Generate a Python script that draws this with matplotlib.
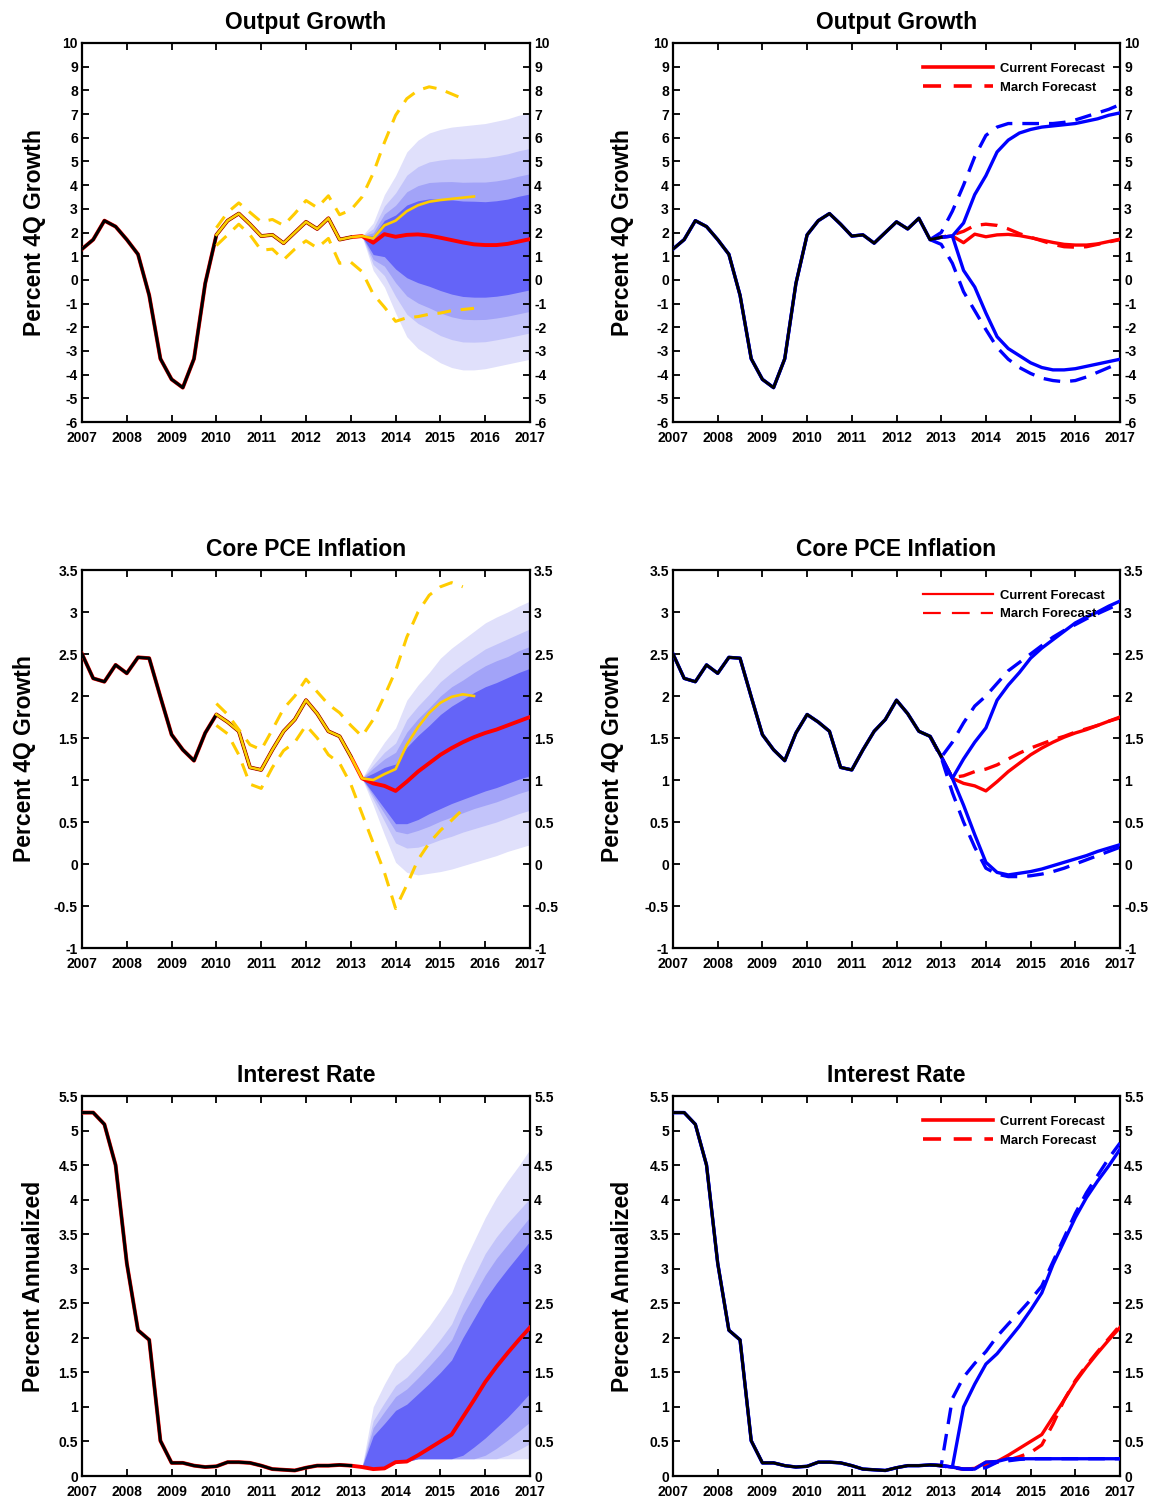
import numpy as np
import matplotlib
matplotlib.use('Agg')
import matplotlib.pyplot as plt
from matplotlib.lines import Line2D
from matplotlib.ticker import FormatStrFormatter

plt.rcParams['font.family'] = ['Liberation Sans', 'DejaVu Sans']
plt.rcParams['axes.unicode_minus'] = False

# ---------------- data ----------------
HIST_START = 2007.0     # quarterly history
FC_START = 2013.25      # current forecast / fan
MARCH_START = 2012.75   # March forecast
PREV_START = 2010.0     # earlier forecast (yellow)
years = list(range(2007, 2018))

# Output growth
gdp_hist = [1.3, 1.7, 2.5, 2.25, 1.7, 1.08, -0.65, -3.33, -4.2, -4.55, -3.33, -0.15,
            1.9, 2.5, 2.8, 2.35, 1.85, 1.9, 1.55, 2.0, 2.45, 2.15, 2.6, 1.7, 1.8]
gdp_med = [1.85, 1.57, 1.93, 1.82, 1.9, 1.92, 1.87, 1.78, 1.68, 1.58, 1.5, 1.47, 1.47, 1.52, 1.62, 1.72]
gdp_hi1 = [1.85, 2.4, 3.6, 4.4, 5.4, 5.9, 6.2, 6.35, 6.45, 6.5, 6.55, 6.6, 6.7, 6.8, 6.95, 7.05]
gdp_hi2 = [1.85, 2.16, 3.12, 3.67, 4.42, 4.78, 4.98, 5.06, 5.11, 5.11, 5.14, 5.16, 5.23, 5.32, 5.45, 5.55]
gdp_hi3 = [1.85, 1.99, 2.78, 3.15, 3.72, 3.98, 4.11, 4.14, 4.15, 4.12, 4.13, 4.13, 4.18, 4.26, 4.38, 4.48]
gdp_hi4 = [1.85, 1.86, 2.51, 2.74, 3.16, 3.34, 3.42, 3.41, 3.38, 3.33, 3.32, 3.3, 3.34, 3.41, 3.53, 3.63]
gdp_lo4 = [1.85, 1.07, 0.98, 0.46, 0.09, -0.12, -0.27, -0.45, -0.6, -0.7, -0.73, -0.73, -0.69, -0.62, -0.52, -0.42]
gdp_lo3 = [1.85, 0.86, 0.58, -0.12, -0.68, -0.98, -1.18, -1.4, -1.56, -1.66, -1.68, -1.67, -1.61, -1.53, -1.43, -1.33]
gdp_lo2 = [1.85, 0.65, 0.18, -0.7, -1.45, -1.84, -2.09, -2.35, -2.52, -2.62, -2.63, -2.61, -2.53, -2.44, -2.34, -2.24]
gdp_lo1 = [1.85, 0.4, -0.3, -1.4, -2.4, -2.9, -3.2, -3.5, -3.7, -3.8, -3.8, -3.75, -3.65, -3.55, -3.45, -3.35]
gdp_prev = [1.9, 2.5, 2.8, 2.35, 1.85, 1.9, 1.55, 2.0, 2.45, 2.15, 2.6, 1.7, 1.8, 1.85, 1.75, 2.3,
            2.5, 2.9, 3.15, 3.3, 3.37, 3.42, 3.47, 3.52]
gdp_prev_hi = [2.2, 2.85, 3.25, 2.85, 2.45, 2.55, 2.3, 2.8, 3.35, 3.05, 3.55, 2.75, 2.95, 3.5, 4.5,
               5.8, 6.95, 7.65, 8.0, 8.15, 8.05, 7.85, 7.65]
gdp_prev_lo = [1.45, 1.9, 2.35, 1.9, 1.25, 1.3, 0.85, 1.3, 1.65, 1.35, 1.75, 0.7, 0.75, 0.35, -0.6,
               -1.15, -1.75, -1.6, -1.55, -1.45, -1.4, -1.3, -1.25, -1.2]
gdp_mar_hi = [1.7, 2.0, 2.9, 4.0, 5.2, 6.1, 6.45, 6.6, 6.6, 6.6, 6.6, 6.6, 6.65, 6.75, 6.9, 7.05, 7.2, 7.4]
gdp_mar_lo = [1.7, 1.5, 0.7, -0.5, -1.3, -2.1, -2.85, -3.35, -3.7, -3.95, -4.15, -4.25, -4.3, -4.25,
              -4.1, -3.9, -3.7, -3.5]
gdp_mar_med = [1.7, 1.8, 1.9, 2.05, 2.3, 2.35, 2.3, 2.15, 1.95, 1.8, 1.65, 1.5, 1.4, 1.38, 1.4, 1.5, 1.6, 1.7]

# Core PCE inflation
pce_hist = [2.5, 2.21, 2.17, 2.37, 2.27, 2.46, 2.45, 1.99, 1.54, 1.36, 1.23, 1.56, 1.78, 1.69,
            1.58, 1.15, 1.12, 1.36, 1.58, 1.72, 1.95, 1.79, 1.58, 1.52, 1.28]
pce_med = [1.02, 0.96, 0.93, 0.87, 0.98, 1.1, 1.2, 1.3, 1.38, 1.45, 1.51, 1.56, 1.6, 1.65, 1.7, 1.75]
pce_hi1 = [1.02, 1.25, 1.45, 1.62, 1.95, 2.13, 2.28, 2.45, 2.57, 2.67, 2.77, 2.87, 2.94, 3.0, 3.07, 3.13]
pce_hi2 = [1.02, 1.18, 1.33, 1.44, 1.72, 1.88, 2.02, 2.17, 2.28, 2.38, 2.47, 2.56, 2.62, 2.68, 2.74, 2.8]
pce_hi3 = [1.02, 1.14, 1.25, 1.33, 1.57, 1.73, 1.86, 2.0, 2.11, 2.19, 2.28, 2.36, 2.42, 2.47, 2.54, 2.59]
pce_hi4 = [1.02, 1.08, 1.15, 1.19, 1.39, 1.53, 1.65, 1.78, 1.88, 1.96, 2.04, 2.11, 2.16, 2.22, 2.28, 2.33]
pce_lo4 = [1.02, 0.84, 0.66, 0.48, 0.48, 0.53, 0.6, 0.66, 0.72, 0.77, 0.82, 0.87, 0.91, 0.96, 1.01, 1.05]
pce_lo3 = [1.02, 0.81, 0.6, 0.39, 0.36, 0.4, 0.45, 0.51, 0.56, 0.61, 0.66, 0.7, 0.74, 0.79, 0.84, 0.88]
pce_lo2 = [1.02, 0.77, 0.51, 0.25, 0.19, 0.2, 0.24, 0.29, 0.33, 0.38, 0.42, 0.46, 0.5, 0.55, 0.6, 0.64]
pce_lo1 = [1.02, 0.7, 0.35, 0.02, -0.1, -0.13, -0.11, -0.09, -0.06, -0.02, 0.02, 0.06, 0.1, 0.15, 0.19, 0.23]
pce_prev = [1.78, 1.69, 1.58, 1.15, 1.12, 1.36, 1.58, 1.72, 1.95, 1.79, 1.58, 1.52, 1.28, 1.02, 1.0,
            1.07, 1.13, 1.42, 1.63, 1.8, 1.92, 1.99, 2.02, 2.0]
pce_prev_hi = [1.91, 1.78, 1.6, 1.42, 1.36, 1.6, 1.85, 2.0, 2.2, 2.05, 1.9, 1.8, 1.65, 1.52, 1.72,
               2.0, 2.3, 2.7, 3.0, 3.2, 3.3, 3.35, 3.3]
pce_prev_lo = [1.65, 1.55, 1.3, 0.95, 0.9, 1.15, 1.35, 1.45, 1.65, 1.5, 1.3, 1.2, 0.95, 0.6, 0.25,
               -0.1, -0.53, -0.25, 0.05, 0.25, 0.4, 0.52, 0.65]
pce_mar_hi = [1.52, 1.27, 1.45, 1.68, 1.88, 2.0, 2.15, 2.3, 2.4, 2.5, 2.6, 2.7, 2.78, 2.85, 2.92, 2.98, 3.04, 3.1]
pce_mar_lo = [1.52, 1.27, 0.85, 0.5, 0.2, -0.05, -0.12, -0.15, -0.15, -0.14, -0.12, -0.09, -0.05, 0.0,
              0.05, 0.1, 0.15, 0.2]
pce_mar_med = [1.52, 1.27, 1.03, 1.05, 1.1, 1.13, 1.18, 1.25, 1.32, 1.38, 1.43, 1.48, 1.52, 1.57, 1.61,
               1.65, 1.7, 1.74]

# Interest rate
ir_hist = [5.26, 5.26, 5.09, 4.5, 3.08, 2.11, 1.97, 0.51, 0.19, 0.19, 0.15, 0.13, 0.14, 0.2, 0.2,
           0.19, 0.15, 0.1, 0.09, 0.08, 0.12, 0.15, 0.15, 0.16, 0.15]
ir_med = [0.13, 0.1, 0.11, 0.2, 0.21, 0.3, 0.4, 0.5, 0.6, 0.85, 1.1, 1.36, 1.58, 1.78, 1.97, 2.15]
ir_hi1 = [0.13, 1.0, 1.33, 1.62, 1.77, 1.97, 2.17, 2.4, 2.65, 3.06, 3.4, 3.74, 4.03, 4.27, 4.49, 4.73]
ir_hi2 = [0.13, 0.8, 1.06, 1.31, 1.43, 1.6, 1.78, 1.98, 2.2, 2.57, 2.89, 3.22, 3.46, 3.66, 3.84, 4.02]
ir_hi3 = [0.13, 0.7, 0.93, 1.15, 1.26, 1.42, 1.59, 1.77, 1.97, 2.33, 2.62, 2.91, 3.15, 3.35, 3.55, 3.75]
ir_hi4 = [0.13, 0.58, 0.76, 0.95, 1.04, 1.19, 1.34, 1.5, 1.68, 2.0, 2.28, 2.56, 2.79, 3.0, 3.2, 3.4]
ir_lo4 = [0.13, 0.1, 0.11, 0.2, 0.21, 0.25, 0.25, 0.25, 0.25, 0.3, 0.42, 0.55, 0.7, 0.85, 1.02, 1.2]
ir_lo3 = [0.13, 0.1, 0.1, 0.2, 0.21, 0.25, 0.25, 0.25, 0.25, 0.25, 0.25, 0.3, 0.4, 0.52, 0.65, 0.78]
ir_lo2 = [0.13, 0.1, 0.1, 0.2, 0.21, 0.25, 0.25, 0.25, 0.25, 0.25, 0.25, 0.25, 0.25, 0.3, 0.38, 0.47]
ir_lo1 = [0.13, 0.1, 0.1, 0.2, 0.21, 0.25, 0.25, 0.25, 0.25, 0.25, 0.25, 0.25, 0.25, 0.25, 0.25, 0.25]
ir_mar_hi = [0.16, 0.15, 1.12, 1.43, 1.63, 1.8, 2.02, 2.2, 2.37, 2.55, 2.75, 3.1, 3.45, 3.8, 4.1, 4.35, 4.6, 4.82]
ir_mar_lo = [0.16, 0.15, 0.12, 0.1, 0.1, 0.12, 0.2, 0.22, 0.24, 0.25, 0.25, 0.25, 0.25, 0.25, 0.25,
             0.25, 0.25, 0.25]
ir_mar_med = [0.16, 0.15, 0.12, 0.1, 0.1, 0.15, 0.2, 0.23, 0.28, 0.34, 0.45, 0.75, 1.1, 1.38, 1.6, 1.8,
              1.99, 2.18]

# ---------------- styling ----------------
FAN_COLORS = ['#e0e0fb', '#c3c4fa', '#a2a3f8', '#6464f8']
RED = '#ff0000'
BLUE = '#0000ff'
GOLD = '#ffcc00'


def qx(start, values):
    return start + 0.25 * np.arange(len(values))


def setup(ax, ylim, step, title, ylabel, lab_off):
    ax.set_xlim(2007, 2017)
    ax.set_ylim(*ylim)
    ax.set_xticks(years)
    ax.set_yticks(np.arange(ylim[0], ylim[1] + step / 2, step))
    ax.yaxis.set_major_formatter(FormatStrFormatter('%g'))
    ax.tick_params(which='major', direction='in', top=True, right=True, labelright=True,
                   length=5, width=1.3, labelsize=10, colors='black')
    ax.tick_params(axis='x', pad=6.5)
    ax.tick_params(axis='y', pad=3)
    for t in ax.xaxis.get_major_ticks() + ax.yaxis.get_major_ticks():
        t.label1.set_fontweight('bold')
        t.label2.set_fontweight('bold')
    for s in ax.spines.values():
        s.set_linewidth(1.6)
    ax.set_title(title, fontsize=16.5, fontweight='bold', pad=10)
    ax.set_ylabel(ylabel, fontsize=16.5, fontweight='bold', va='center', ha='center')
    ax.yaxis.set_label_coords(-lab_off, 0.5)


def draw_fan(ax, bands):
    x = qx(FC_START, bands[0][0])
    for (lo, hi), c in zip(bands, FAN_COLORS):
        ax.fill_between(x, lo, hi, color=c, linewidth=0, zorder=1)


def left_panel(ax, hist, med, bands, prev=None, prev_hi=None, prev_lo=None):
    draw_fan(ax, bands)
    xh = qx(HIST_START, hist)
    full = list(hist) + list(med)
    ax.plot(qx(HIST_START, full), full, color=RED, lw=2.8, zorder=3, solid_joinstyle='round')
    ax.plot(xh, hist, color='black', lw=2.2, zorder=4)
    if prev is not None:
        ax.plot(qx(PREV_START, prev_hi), prev_hi, color=GOLD, lw=2.2, dashes=(4.5, 3.2), zorder=5)
        ax.plot(qx(PREV_START, prev_lo), prev_lo, color=GOLD, lw=2.2, dashes=(4.5, 3.2), zorder=5)
        ax.plot(qx(PREV_START, prev), prev, color=GOLD, lw=1.9, zorder=6)


def right_panel(ax, hist, med, hi1, lo1, mar_med, mar_hi, mar_lo, lw_leg):
    xm = qx(MARCH_START, mar_med)
    ax.plot(xm, mar_med, color=RED, lw=2.4, dashes=(5, 3), zorder=2)
    cur = [hist[-1]] + list(med)
    ax.plot(qx(FC_START - 0.25, cur), cur, color=RED, lw=2.4, zorder=3)
    ax.plot(xm, mar_hi, color=BLUE, lw=2.4, dashes=(5, 3), zorder=3)
    ax.plot(xm, mar_lo, color=BLUE, lw=2.4, dashes=(5, 3), zorder=3)
    up = list(hist) + list(hi1)
    dn = list(hist) + list(lo1)
    ax.plot(qx(HIST_START, up), up, color=BLUE, lw=2.4, zorder=4)
    ax.plot(qx(HIST_START, dn), dn, color=BLUE, lw=2.4, zorder=4)
    ax.plot(qx(HIST_START, hist), hist, color='black', lw=2.1, zorder=5)
    handles = [Line2D([], [], color=RED, lw=lw_leg),
               Line2D([], [], color=RED, lw=lw_leg, dashes=(5, 3.5) if lw_leg > 2 else (8, 5))]
    ax.legend(handles, ['Current Forecast', 'March Forecast'], loc='upper right',
              bbox_to_anchor=(0.965, 0.948), frameon=False, borderpad=0, borderaxespad=0,
              handlelength=5.4, handletextpad=0.5, labelspacing=0.5,
              prop={'size': 9.4, 'weight': 'bold'})


fig = plt.figure(figsize=(11.56, 14.97), dpi=100)
LX, LW = 82 / 1156, 448 / 1156
RX, RW = 673 / 1156, 447 / 1156
rows = [(1 - 422 / 1497, 379 / 1497), (1 - 948 / 1497, 378 / 1497), (1 - 1476 / 1497, 380 / 1497)]

# Row 1: output growth
ax = fig.add_axes([LX, rows[0][0], LW, rows[0][1]])
left_panel(ax, gdp_hist, gdp_med,
           [(gdp_lo1, gdp_hi1), (gdp_lo2, gdp_hi2), (gdp_lo3, gdp_hi3), (gdp_lo4, gdp_hi4)],
           gdp_prev, gdp_prev_hi, gdp_prev_lo)
setup(ax, (-6, 10), 1, 'Output Growth', 'Percent 4Q Growth', 0.105)

ax = fig.add_axes([RX, rows[0][0], RW, rows[0][1]])
right_panel(ax, gdp_hist, gdp_med, gdp_hi1, gdp_lo1, gdp_mar_med, gdp_mar_hi, gdp_mar_lo, 2.6)
setup(ax, (-6, 10), 1, 'Output Growth', 'Percent 4Q Growth', 0.112)

# Row 2: core PCE
ax = fig.add_axes([LX, rows[1][0], LW, rows[1][1]])
left_panel(ax, pce_hist, pce_med,
           [(pce_lo1, pce_hi1), (pce_lo2, pce_hi2), (pce_lo3, pce_hi3), (pce_lo4, pce_hi4)],
           pce_prev, pce_prev_hi, pce_prev_lo)
setup(ax, (-1, 3.5), 0.5, 'Core PCE Inflation', 'Percent 4Q Growth', 0.128)

ax = fig.add_axes([RX, rows[1][0], RW, rows[1][1]])
right_panel(ax, pce_hist, pce_med, pce_hi1, pce_lo1, pce_mar_med, pce_mar_hi, pce_mar_lo, 1.6)
setup(ax, (-1, 3.5), 0.5, 'Core PCE Inflation', 'Percent 4Q Growth', 0.136)

# Row 3: interest rate
ax = fig.add_axes([LX, rows[2][0], LW, rows[2][1]])
left_panel(ax, ir_hist, ir_med,
           [(ir_lo1, ir_hi1), (ir_lo2, ir_hi2), (ir_lo3, ir_hi3), (ir_lo4, ir_hi4)])
setup(ax, (0, 5.5), 0.5, 'Interest Rate', 'Percent Annualized', 0.109)

ax = fig.add_axes([RX, rows[2][0], RW, rows[2][1]])
right_panel(ax, ir_hist, ir_med, ir_hi1, ir_lo1, ir_mar_med, ir_mar_hi, ir_mar_lo, 2.6)
setup(ax, (0, 5.5), 0.5, 'Interest Rate', 'Percent Annualized', 0.114)

fig.savefig('out.png', dpi=100)
